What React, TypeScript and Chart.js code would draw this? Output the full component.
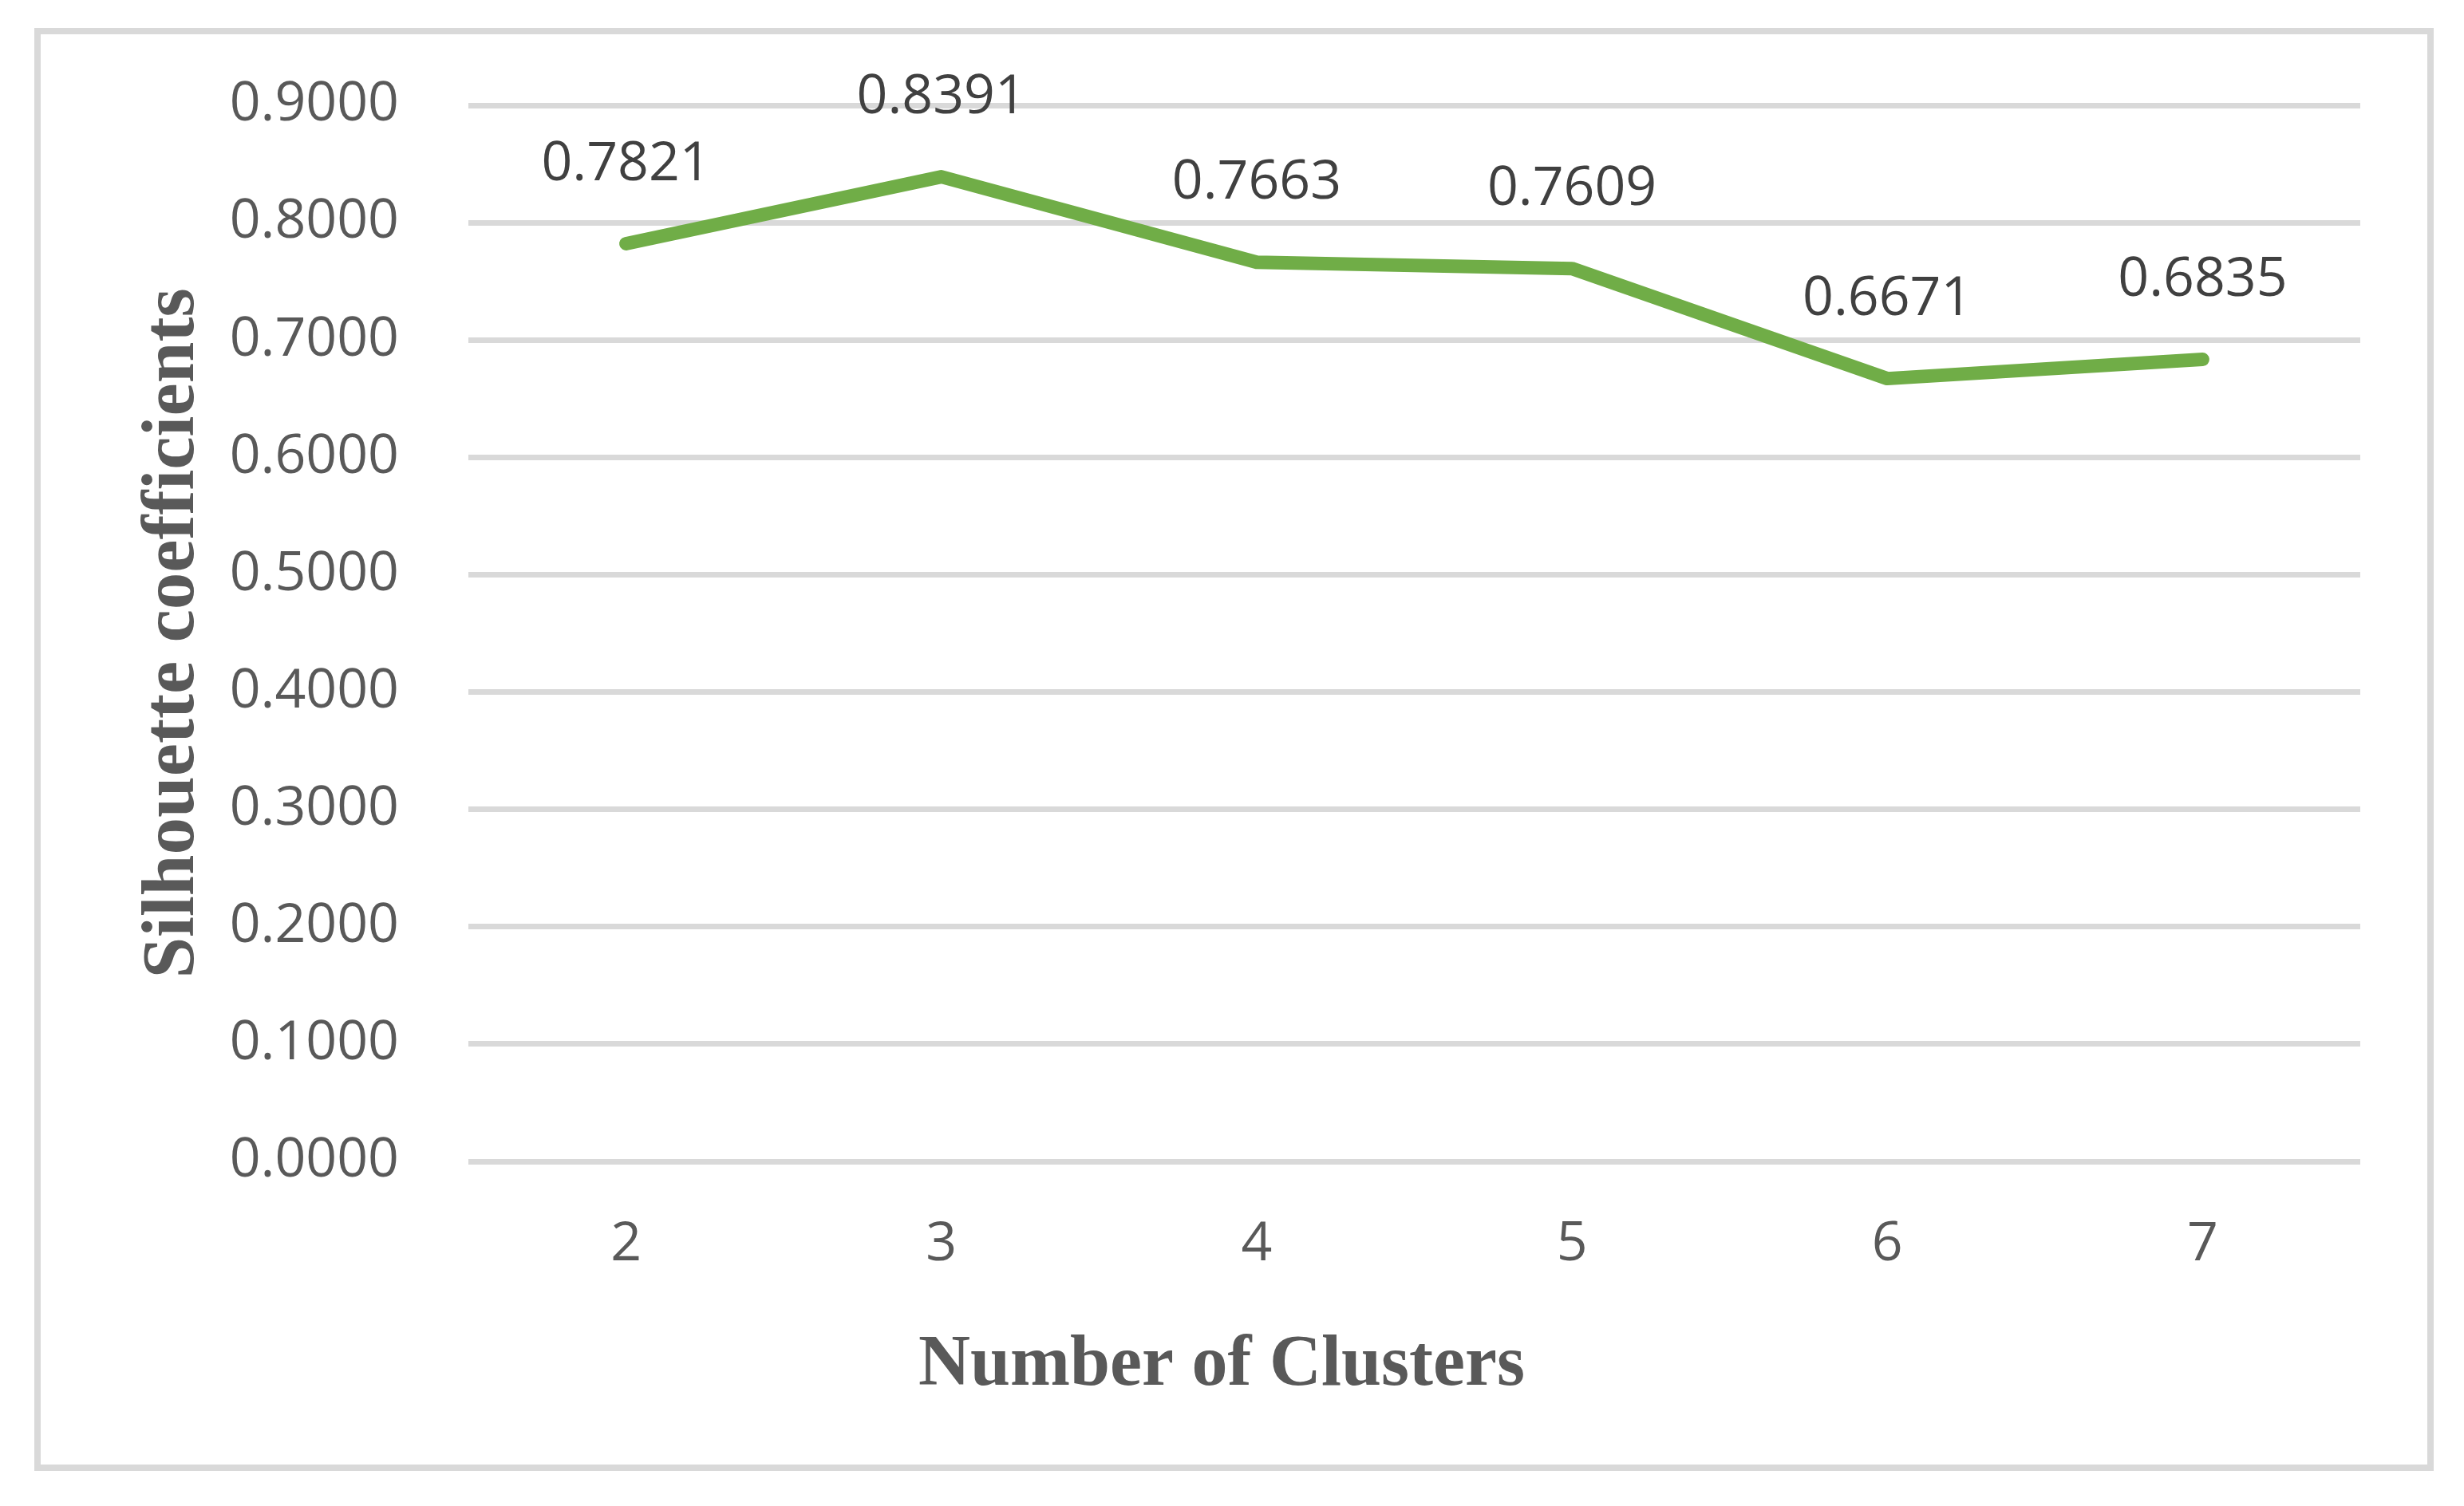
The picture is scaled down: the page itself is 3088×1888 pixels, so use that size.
import React, { useEffect, useRef } from "react";
import { Chart, registerables } from "chart.js";

Chart.register(...registerables);

// ---- data ----
const categories: string[] = ["2", "3", "4", "5", "6", "7"];
const silhouetteValues: number[] = [0.7821, 0.8391, 0.7663, 0.7609, 0.6671, 0.6835];
const yTickMin = 0;
const yTickMax = 0.9;
const yTickStep = 0.1;
const xAxisTitle = "Number of Clusters";
const yAxisTitle = "Silhouette coefficients";

const W = 3088;
const H = 1888;

const framePlugin = {
  id: "frame",
  beforeDraw(chart: any) {
    const { ctx } = chart;
    ctx.save();
    ctx.fillStyle = "#ffffff";
    ctx.fillRect(0, 0, chart.width, chart.height);
    ctx.strokeStyle = "#d9d9d9";
    ctx.lineWidth = 8;
    ctx.strokeRect(47, 39, 2999, 1801);
    ctx.restore();
  },
};

const xTitlePlugin = {
  id: "xTitle",
  afterDraw(chart: any) {
    const { ctx } = chart;
    ctx.save();
    ctx.font = "bold 90px 'Liberation Serif'";
    ctx.fillStyle = "#595959";
    ctx.textAlign = "center";
    ctx.textBaseline = "alphabetic";
    ctx.fillText(xAxisTitle, 1531, 1736);
    ctx.restore();
  },
};

const dataLabelPlugin = {
  id: "dataLabels",
  afterDatasetsDraw(chart: any) {
    const { ctx } = chart;
    const meta = chart.getDatasetMeta(0);
    ctx.save();
    ctx.font = "68px 'Open Sans'";
    ctx.fillStyle = "#404040";
    ctx.textAlign = "center";
    ctx.textBaseline = "middle";
    meta.data.forEach((pt: any, i: number) => {
      const v = chart.data.datasets[0].data[i] as number;
      ctx.fillText(v.toFixed(4), pt.x, pt.y - 99);
    });
    ctx.restore();
  },
};

export default function App() {
  const ref = useRef<HTMLCanvasElement | null>(null);

  useEffect(() => {
    if (!ref.current) return;
    const chart = new Chart(ref.current, {
      type: "line",
      data: {
        labels: categories,
        datasets: [
          {
            data: silhouetteValues,
            borderColor: "#70AD47",
            backgroundColor: "#70AD47",
            borderWidth: 17,
            borderCapStyle: "round",
            borderJoinStyle: "round",
            pointRadius: 0,
            pointHoverRadius: 0,
            tension: 0,
            fill: false,
          },
        ],
      },
      options: {
        responsive: false,
        animation: false,
        devicePixelRatio: 1,
        layout: { padding: { top: 132, right: 130, bottom: 0, left: 0 } },
        plugins: {
          legend: { display: false },
          tooltip: { enabled: false },
          title: { display: false },
        },
        scales: {
          x: {
            type: "category",
            offset: true,
            grid: { display: false, drawTicks: false },
            border: { display: false },
            ticks: {
              color: "#595959",
              font: { family: "'Open Sans'", size: 68 },
              padding: 64,
              maxRotation: 0,
            },
            title: { display: false },
            afterFit(scale: any) {
              scale.height = 432;
            },
          },
          y: {
            type: "linear",
            min: yTickMin,
            max: yTickMax,
            grid: { color: "#d9d9d9", lineWidth: 7, drawTicks: false },
            border: { display: false },
            ticks: {
              stepSize: yTickStep,
              color: "#595959",
              font: { family: "'Open Sans'", size: 68 },
              padding: 87,
              callback: (v: any) => Number(v).toFixed(4),
            },
            title: {
              display: true,
              text: yAxisTitle,
              color: "#595959",
              font: { family: "'Liberation Serif'", size: 93, weight: "bold" },
              padding: { top: 162, bottom: 0 },
            },
            afterFit(scale: any) {
              scale.width = 587;
            },
          },
        },
      },
      plugins: [framePlugin, dataLabelPlugin, xTitlePlugin],
    });
    return () => chart.destroy();
  }, []);

  return (
    <div style={{ position: "fixed", left: 0, top: 0, width: W, height: H, background: "#fff" }}>
      <canvas ref={ref} width={W} height={H} style={{ width: W, height: H, display: "block" }} />
    </div>
  );
}
